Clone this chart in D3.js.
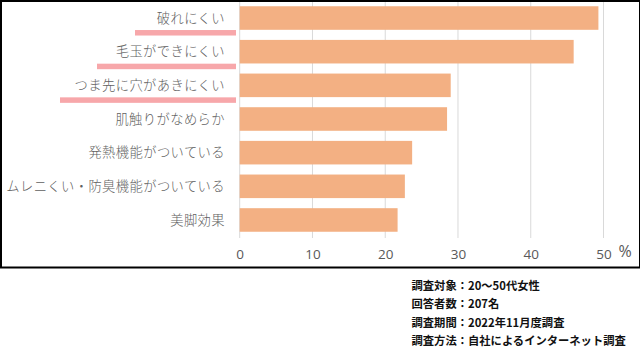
<!DOCTYPE html>
<html><head><meta charset="utf-8">
<script src="https://cdn.jsdelivr.net/npm/d3@7"></script>
<style>body{margin:0;background:#fff;} svg{display:block;}</style>
</head><body>
<script>
const categories = ["破れにくい","毛玉ができにくい","つま先に穴があきにくい","肌触りがなめらか","発熱機能がついている","ムレニくい・防臭機能がついている","美脚効果"];
const values = [49.3, 45.9, 29.0, 28.5, 23.7, 22.7, 21.7];
const highlighted = ["破れにくい","毛玉ができにくい","つま先に穴があきにくい"];
const xTicks = [0,10,20,30,40,50];
const notes = ["調査対象：20～50代女性","回答者数：207名","調査期間：2022年11月度調査","調査方法：自社によるインターネット調査"];

const W = 640, H = 359;
const svg = d3.select("body").append("svg").attr("width", W).attr("height", H);
const jp = "'Noto Sans CJK JP','Noto Sans',sans-serif";

const x = d3.scaleLinear().domain([0,50]).range([239.7,603.5]);
const y = d3.scaleBand().domain(categories).range([1.2,236.8]).paddingInner(0.3).paddingOuter(0.15);

// frame
svg.append("rect").attr("x",1).attr("y",1).attr("width",W-1).attr("height",266.5)
  .attr("fill","none").attr("stroke","#000").attr("stroke-width",2);

// gridlines
svg.append("g").selectAll("line").data(xTicks).join("line")
  .attr("x1",d=>x(d)).attr("x2",d=>x(d)).attr("y1",2).attr("y2",238)
  .attr("stroke","#d9d9d9").attr("stroke-width",1);

// bars
svg.append("g").selectAll("rect").data(categories).join("rect")
  .attr("x",x(0)).attr("y",d=>y(d)).attr("height",y.bandwidth())
  .attr("width",(d,i)=>x(values[i])-x(0)).attr("fill","#f3b083");

// highlight underlines
const ulStart = {"破れにくい":135,"毛玉ができにくい":97,"つま先に穴があきにくい":60};
svg.append("g").selectAll("rect").data(highlighted).join("rect")
  .attr("x",d=>ulStart[d]).attr("y",d=>y(d)+y.bandwidth()/2+12)
  .attr("width",d=>236-ulStart[d]).attr("height",5.5).attr("fill","#f7a7aa");

// category labels
svg.append("g").selectAll("text").data(categories).join("text")
  .attr("x",225).attr("y",d=>y(d)+y.bandwidth()/2).attr("dy","0.35em")
  .attr("text-anchor","end").attr("font-family",jp).attr("font-size",13.3)
  .attr("font-weight",300)
  .attr("letter-spacing","0.4px").attr("fill","#5f5f5f").text(d=>d);

// axis tick labels
const ax = svg.append("g").attr("transform","translate(0,238)")
  .call(d3.axisBottom(x).tickValues(xTicks).tickSize(0).tickPadding(11));
ax.select(".domain").remove();
ax.selectAll("text").attr("font-family","'Open Sans',sans-serif").attr("font-size",13.5).attr("fill","#595959");

svg.append("text").attr("x",625).attr("y",257).attr("text-anchor","middle")
  .attr("font-family","'Open Sans',sans-serif").attr("font-size",16).attr("fill","#595959").text("%");

// notes
svg.append("g").selectAll("text").data(notes).join("text")
  .attr("x",411.5).attr("y",(d,i)=>286+i*18.3).attr("dy","0.35em")
  .attr("font-family",jp).attr("font-weight","bold").attr("font-size",11.3)
  .attr("fill","#111").text(d=>d);
</script>
</body></html>
